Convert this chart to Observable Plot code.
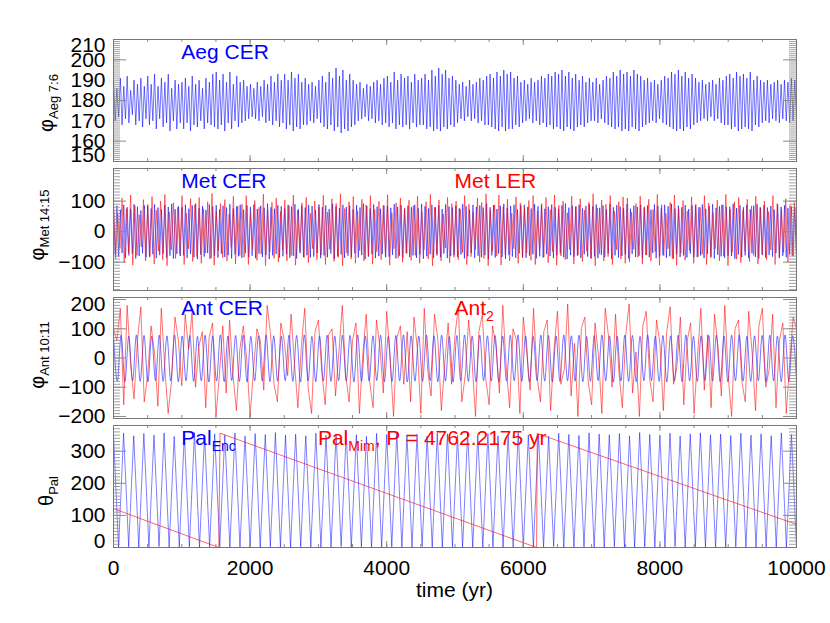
<!DOCTYPE html>
<html><head><meta charset="utf-8">
<script src="https://cdn.jsdelivr.net/npm/d3@7"></script>
<script src="https://cdn.jsdelivr.net/npm/@observablehq/plot@0.6"></script>
<style>
body{margin:0;background:#fff;}
#chart{width:830px;height:623px;}
#chart svg{display:block;overflow:visible;}
</style></head><body><div id="chart"></div>
<script>
// ---------------- data ----------------
const years = {start: 0, end: 10000};
const xTickLabels = [0, 2000, 4000, 6000, 8000, 10000];

// Aeg CER, phi_Aeg 7:6 : successive maxima / minima of the fast oscillation
const aegHi = [190,186,191,187,192,185,190,188,191,187, 192,188,193,187,191,189,193,186,190,188,
  189,191,187,192,188,190,186,191,189,193, 194,190,193,189,194,188,192,189,190,187,
  188,186,189,187,190,188,192,189,193,190, 193,190,194,191,193,189,191,188,189,187,
  190,192,189,194,191,196,192,195,190,193, 190,188,189,186,188,187,189,190,188,191,
  192,189,194,190,193,191,192,189,193,190, 191,193,190,195,192,196,193,195,191,192,
  190,188,189,187,190,188,189,191,190,192, 193,191,194,192,195,193,194,191,192,189,
  190,188,191,189,190,192,191,193,192,194, 193,195,192,194,191,193,190,192,189,191,
  189,191,188,190,192,191,194,192,195,193, 194,192,195,193,192,190,191,189,190,188,
  190,192,191,194,193,195,192,194,191,193, 191,189,190,188,189,190,188,191,190,192,
  193,191,194,192,193,191,194,190,192,190, 189,190,188,189,190,188,190,189,191,190];
const aegLo = [170,172,168,171,169,173,168,170,167,171, 168,170,166,171,167,169,165,170,166,169,
  166,169,165,168,167,170,166,169,168,167, 166,168,165,169,166,170,167,169,170,171,
  172,171,170,172,169,170,168,170,167,169, 166,168,165,167,166,168,168,170,169,171,
  169,167,166,168,165,167,164,166,165,167, 168,170,171,172,170,171,169,170,168,169,
  167,169,166,168,167,168,166,169,167,168, 168,166,167,165,166,165,167,166,168,167,
  169,171,170,172,170,171,169,170,168,168, 167,166,165,167,165,166,166,168,167,169,
  170,171,169,170,168,169,167,168,166,167, 166,165,167,166,165,167,168,167,169,170,
  170,169,171,169,168,167,166,167,165,166, 165,167,166,165,167,168,169,170,169,171,
  169,168,167,166,165,166,165,167,166,168, 169,170,171,170,172,170,171,169,168,168,
  166,167,165,166,167,166,165,168,167,169, 170,169,171,170,169,171,170,169,170,171];

// Met CER (blue) and Met LER (red), phi_Met 14:15
const metCerHi = [78,85,72,88,80,75,90,82,70,86, 84,76,89,79,73,87,81,91,74,83,
  80,88,75,86,92,77,84,71,89,82, 87,73,85,79,90,76,83,88,72,86,
  81,89,74,85,78,92,80,75,87,83, 76,88,82,90,73,85,79,87,84,71,
  89,80,86,74,91,83,77,88,81,85, 73,87,79,92,84,76,89,82,75,86,
  84,78,90,81,87,72,85,80,88,77, 91,83,76,88,80,86,74,89,82,79,
  85,77,90,83,72,88,81,86,79,92, 80,87,74,85,91,78,84,88,73,86,
  88,81,76,90,83,87,75,82,89,80, 74,86,92,79,85,81,88,76,84,90,
  83,89,78,86,73,91,80,87,82,77, 90,75,85,81,88,79,86,72,89,84,
  78,88,83,91,76,85,80,87,74,86, 86,80,89,75,84,90,78,83,88,81,
  82,91,77,86,80,88,73,85,90,79, 87,79,84,72,89,81,86,77,83,80];
const metCerLo = [-75,-82,-70,-86,-78,-73,-88,-80,-71,-84, -81,-74,-87,-77,-72,-85,-79,-89,-73,-80,
  -78,-86,-73,-84,-90,-75,-82,-70,-87,-80, -85,-72,-83,-77,-88,-74,-81,-86,-71,-84,
  -79,-87,-72,-83,-76,-90,-78,-73,-85,-81, -74,-86,-80,-88,-71,-83,-77,-85,-82,-70,
  -87,-78,-84,-72,-89,-81,-75,-86,-79,-83, -71,-85,-77,-90,-82,-74,-87,-80,-73,-84,
  -82,-76,-88,-79,-85,-70,-83,-78,-86,-75, -89,-81,-74,-86,-78,-84,-72,-87,-80,-77,
  -83,-75,-88,-81,-70,-86,-79,-84,-77,-90, -78,-85,-72,-83,-89,-76,-82,-86,-71,-84,
  -86,-79,-74,-88,-81,-85,-73,-80,-87,-78, -72,-84,-90,-77,-83,-79,-86,-74,-82,-88,
  -81,-87,-76,-84,-71,-89,-78,-85,-80,-75, -88,-73,-83,-79,-86,-77,-84,-70,-87,-82,
  -76,-86,-81,-89,-74,-83,-78,-85,-72,-84, -84,-78,-87,-73,-82,-88,-76,-81,-86,-79,
  -80,-89,-75,-84,-78,-86,-71,-83,-88,-77, -85,-77,-82,-70,-87,-79,-84,-75,-81,-78];
const metLerHi = [95,60,110,75,120,85,55,105,90,115, 70,100,122,65,95,80,118,60,108,88,
  112,75,98,125,68,92,105,58,116,84, 90,118,62,102,80,123,72,96,110,66,
  104,85,120,70,94,112,60,100,82,119, 64,108,92,124,76,98,115,68,106,88,
  118,72,100,86,121,62,94,110,78,103, 85,116,66,98,122,80,104,58,112,92,
  100,74,118,90,64,110,96,124,70,88, 120,82,106,60,114,94,76,102,118,68,
  92,112,72,120,86,100,62,116,84,108, 70,96,124,78,104,90,118,66,98,114,
  110,64,92,116,82,106,72,122,88,60, 96,120,76,102,68,114,90,80,118,94,
  62,104,88,122,74,98,112,70,106,84, 116,80,100,66,118,92,74,108,86,96];
const metLerLo = [-88,-55,-102,-70,-110,-78,-50,-96,-84,-106, -64,-92,-112,-60,-88,-74,-108,-56,-98,-82,
  -104,-70,-90,-110,-62,-86,-96,-52,-106,-78, -84,-108,-58,-94,-74,-112,-66,-88,-100,-60,
  -96,-78,-110,-64,-86,-102,-56,-92,-76,-108, -58,-98,-84,-112,-70,-90,-104,-62,-96,-80,
  -106,-66,-92,-80,-110,-56,-86,-100,-72,-94, -78,-104,-60,-90,-112,-74,-96,-54,-102,-84,
  -92,-68,-108,-82,-58,-100,-88,-112,-64,-80, -110,-76,-96,-56,-104,-86,-70,-94,-108,-62,
  -84,-102,-66,-110,-80,-92,-58,-106,-76,-98, -64,-88,-112,-72,-96,-82,-108,-60,-90,-104,
  -100,-58,-84,-106,-76,-96,-66,-110,-80,-56, -88,-110,-70,-94,-62,-104,-82,-74,-108,-86,
  -56,-96,-80,-112,-68,-90,-102,-64,-98,-78, -106,-74,-92,-60,-108,-84,-68,-100,-78,-88];

// Ant CER (blue) maxima/minima and Ant2 (red) samples, phi_Ant 10:11
const antCerHi = [76,78,75,79,77,74,78,76,79,75, 77,74,78,76,79,75,77,78,74,76,
  79,76,75,78,77,79,74,76,78,75, 78,77,79,75,76,78,74,77,79,76,
  75,79,76,78,74,77,79,75,78,76, 77,75,78,79,76,74,78,77,75,79,
  76,78,74,77,79,76,75,78,77,74, 79,75,77,76,78,79,74,76,77,78,
  75,78,79,74,76,77,78,75,79,76];
const antCerLo = [-79,-81,-78,-80,-82,-77,-80,-79,-81,-78, -80,-78,-82,-79,-81,-77,-80,-82,-78,-79,
  -81,-79,-77,-80,-82,-78,-81,-79,-80,-77, -78,-82,-80,-79,-77,-81,-80,-78,-82,-79,
  -80,-77,-81,-79,-82,-78,-80,-81,-77,-79, -82,-79,-78,-80,-81,-77,-79,-82,-80,-78,
  -79,-81,-80,-77,-78,-82,-79,-80,-81,-78, -77,-80,-82,-79,-81,-78,-80,-77,-79,-82,
  -81,-78,-79,-80,-77,-82,-78,-81,-80,-79];
const antTwo = [100,60,170,-160,180,-20,-140,60,175,-150, -60,110,20,-165,170,-30,-190,-80,140,60,
  -95,150,30,155,-100,40,90,-170,70,120, -200,-60,110,-120,130,-60,-180,30,110,0,
  -200,-40,100,60,-110,180,80,-90,-150,120, 60,-60,150,-20,-170,40,170,-100,-190,90,
  130,-50,-160,80,100,-130,20,180,-60,-150, 60,120,-190,10,150,-80,-170,130,40,-120,
  160,0,-200,70,110,-90,90,-150,140,30, -190,170,-40,-130,150,60,-180,-20,120,-90,
  80,175,-150,-60,130,-10,-200,90,150,-70, -160,110,40,-120,180,-30,-170,100,60,-190,
  140,20,-110,170,-60,-150,90,130,-180,30, 160,-90,-40,185,-130,50,-200,100,140,-80,
  -160,120,10,-190,170,70,-100,150,-50,-170, 80,185,-120,20,-200,110,160,-70,-150,130,
  50,-180,90,175,-90,-30,140,-160,60,120, -190,0,170,-110,80,-170,150,40,-130,180,
  -60,-200,100,130,-80,-150,160,20,-180,110, 170,-100,-40,150,-170,60,120,-190,-20,140,
  100];

// Pal Enc (blue) turning points and Pal Mim (red) segments, theta_Pal
const palEncHi = [352,356,348,355,350,357,346,353,358,349, 354,351,357,347,355,352,358,350,353,348,
  356,349,354,357,351,346,355,352,358,350, 353,347,356,354,349,357,351,355,348,353,
  358,350,354,346,356,352,349,357,353,351, 355,348,358,352,350,356,347,354,357,351,
  353,349,356,350,354,348,357,352];
const palEncLo = [0,2,1,0,3,1,0,2,0,1, 2,0,1,3,0,2,1,0,2,1, 0,1,3,0,2,0,1,2,0,1,
  3,0,1,2,0,1,0,2,1,0, 2,1,0,3,1,0,2,0,1,2, 0,1,2,0,1,3,0,2,1,0, 1,2,0,1,2,0,1,0];
const palMimT = [0, 1542, 1560, 6195, 6205, 10000];
const palMimV = [121, 0, 356, 0, 355, 72];

// ---------------- build tables ----------------
function zigzag(hi, lo) {
  const n = hi.length * 2, step = (years.end - years.start) / (n - 1);
  return hi.flatMap((h, k) => [{t: years.start + 2 * k * step, v: h}, {t: years.start + (2 * k + 1) * step, v: lo[k]}]);
}
function sampled(vals) {
  const step = (years.end - years.start) / (vals.length - 1);
  return vals.map((v, i) => ({t: years.start + i * step, v}));
}
const aeg = zigzag(aegHi, aegLo);
const metCer = zigzag(metCerHi, metCerLo);
const metLer = zigzag(metLerHi, metLerLo);
const antCer = zigzag(antCerHi, antCerLo);
const ant2 = sampled(antTwo);
const palEnc = zigzag(palEncHi, palEncLo);
const palMim = palMimT.map((t, i) => ({t, v: palMimV[i]}));

// ---------------- drawing ----------------
const FONT = "Liberation Sans, Arial, Helvetica, sans-serif";
const W = 830, ML = 113, MR = 34, FW = W - ML - MR;
const xMajor = xTickLabels;
const xMinor = d3.range(0, 10001, 500);
const GRAY = "#8a8a8a";

function panel(o) {
  const H = o.height - o.mt - o.mb;
  const marks = [
    ...o.lines,
    Plot.tickY(o.yMinor, {y: d => d, stroke: GRAY, strokeWidth: 0.8, insetRight: FW - 7}),
    Plot.tickY(o.yMinor, {y: d => d, stroke: GRAY, strokeWidth: 0.8, insetLeft: FW - 7}),
    Plot.tickY(o.yMajor, {y: d => d, stroke: GRAY, strokeWidth: 1, insetRight: FW - 13}),
    Plot.tickY(o.yMajor, {y: d => d, stroke: GRAY, strokeWidth: 1, insetLeft: FW - 13}),
    Plot.tickX(xMinor, {x: d => d, stroke: GRAY, insetBottom: H - 3}),
    Plot.tickX(xMinor, {x: d => d, stroke: GRAY, insetTop: H - 3}),
    Plot.tickX(xMajor, {x: d => d, stroke: GRAY, insetBottom: H - 6}),
    Plot.tickX(xMajor, {x: d => d, stroke: GRAY, insetTop: H - 6}),
    Plot.frame({stroke: "#777", strokeWidth: 1}),
    ...o.yLabels.map(([ticks, dy]) => Plot.axisY({ticks, tickSize: 0, tickPadding: 8, fontSize: 21,
      fontFamily: FONT, dy, tickFormat: d3.format("d"), label: null})),
    ...(o.extra || [])
  ];
  const p = Plot.plot({
    width: W, height: o.height,
    marginLeft: ML, marginRight: MR, marginTop: o.mt, marginBottom: o.mb,
    style: {fontFamily: FONT, fontSize: "21px", background: "white", color: "black", overflow: "visible"},
    x: {domain: [years.start, years.end], axis: null},
    y: {domain: o.domain, axis: null},
    marks
  });
  const svg = p.tagName.toLowerCase() === "svg" ? p : p.querySelector("svg");
  const xs = p.scale("x"), ys = p.scale("y");
  for (const lab of o.texts) {
    const txt = d3.select(svg).append("text").attr("x", xs.apply(lab.t)).attr("y", ys.apply(lab.v))
      .attr("text-anchor", "start")
      .attr("font-family", FONT).attr("font-size", 21).attr("fill", lab.color);
    let inSub = false;
    for (const part of lab.parts) {
      const ts = txt.append("tspan").text(part.text);
      if (part.sub) { ts.attr("font-size", 14); if (!inSub) ts.attr("dy", 6); inSub = true; }
      else if (inSub) { ts.attr("dy", -6); inSub = false; }
    }
  }
  const yt = d3.select(svg).append("text")
    .attr("transform", `translate(${o.titleX},${o.titleY}) rotate(-90)`)
    .attr("text-anchor", "middle").attr("font-family", FONT).attr("font-size", 20).attr("fill", "black");
  yt.append("tspan").text(o.sym);
  yt.append("tspan").attr("font-size", 13).attr("dy", 5).text(o.sub);
  return {p, svg, xs, ys};
}

const root = document.getElementById("chart");
const lw = 0.55;

const p1 = panel({height: 165, mt: 39, mb: 4, domain: [150, 210],
  lines: [Plot.line(aeg, {x: "t", y: "v", stroke: "#0000ff", strokeWidth: lw, clip: true})],
  yMinor: d3.range(150, 211, 1), yMajor: [160, 180, 200],
  yLabels: [[[160, 170, 180, 190, 200], 0], [[210], 6], [[150], -6]],
  texts: [{t: 1000, v: 200.3, color: "#0000ff", parts: [{text: "Aeg CER"}]}],
  titleX: 53, titleY: 103, sym: "φ", sub: "Aeg 7:6"});

const p2 = panel({height: 128, mt: 3, mb: 3, domain: [-193, 207],
  lines: [Plot.line(metCer, {x: "t", y: "v", stroke: "#0000ff", strokeWidth: lw, clip: true}),
          Plot.line(metLer, {x: "t", y: "v", stroke: "#ff0000", strokeWidth: lw, clip: true})],
  yMinor: d3.range(-190, 207, 10), yMajor: [-100, 0, 100],
  yLabels: [[[-100, 0, 100], 0]],
  texts: [{t: 1000, v: 141, color: "#0000ff", parts: [{text: "Met CER"}]},
          {t: 5000, v: 141, color: "#ff0000", parts: [{text: "Met LER"}]}],
  titleX: 44, titleY: 60, sym: "φ", sub: "Met 14:15"});

const p3 = panel({height: 128, mt: 4, mb: 3, domain: [-207, 207],
  lines: [Plot.line(antCer, {x: "t", y: "v", stroke: "#0000ff", strokeWidth: lw, curve: "monotone-x", clip: true}),
          Plot.line(ant2, {x: "t", y: "v", stroke: "#ff0000", strokeWidth: lw, clip: true})],
  yMinor: d3.range(-200, 201, 10), yMajor: [-200, -100, 0, 100, 200],
  yLabels: [[[-200, -100, 0, 100], 0], [[200], 5]],
  texts: [{t: 1000, v: 145, color: "#0000ff", parts: [{text: "Ant CER"}]},
          {t: 5000, v: 145, color: "#ff0000", parts: [{text: "Ant"}, {text: "2", sub: true}]}],
  titleX: 44, titleY: 62, sym: "φ", sub: "Ant 10:11"});

const p4 = panel({height: 202, mt: 4, mb: 76, domain: [0, 380],
  lines: [Plot.line(palEnc, {x: "t", y: "v", stroke: "#0000ff", strokeWidth: 0.5, clip: true}),
          Plot.line(palMim, {x: "t", y: "v", stroke: "#ff0000", strokeWidth: 0.6, clip: true})],
  yMinor: d3.range(0, 381, 10), yMajor: [0, 100, 200, 300],
  yLabels: [[[100, 200, 300], 0], [[0], -6]],
  extra: [Plot.axisX({ticks: xTickLabels, tickSize: 0, tickPadding: 13, fontSize: 21, fontFamily: FONT,
    tickFormat: d3.format("d"), label: null})],
  texts: [{t: 1000, v: 318, color: "#0000ff", parts: [{text: "Pal"}, {text: "Enc", sub: true}]},
          {t: 3000, v: 318, color: "#ff0000", parts: [{text: "Pal"}, {text: "Mim", sub: true}, {text: ", P = 4762.2175 yr"}]}],
  titleX: 53, titleY: 70, sym: "θ", sub: "Pal"});

d3.select(p4.svg).append("text").attr("x", p4.xs.apply(5000)).attr("y", 176)
  .attr("text-anchor", "middle").attr("font-family", FONT).attr("font-size", 21).attr("fill", "black").text("time (yr)");

for (const q of [p1, p2, p3, p4]) root.appendChild(q.p);
</script></body></html>
